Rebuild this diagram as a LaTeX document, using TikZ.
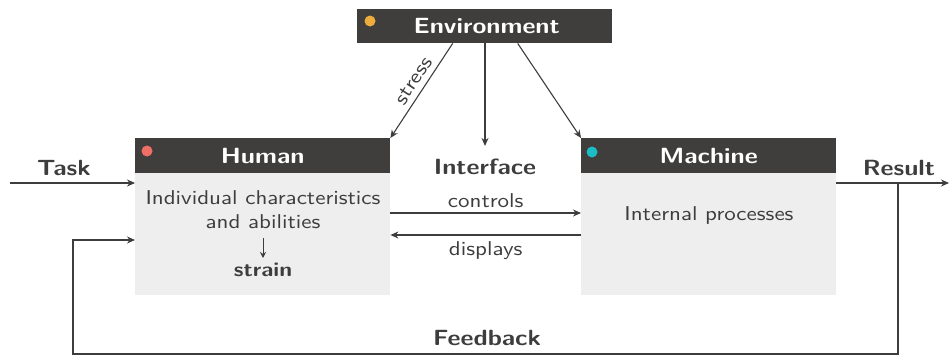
\documentclass[tikz,border=0pt]{standalone}
\usepackage{fontspec}
% Latin Modern Sans (10pt design), set slightly wide
\setmainfont{lmsans10-regular.otf}[BoldFont=lmsans10-bold.otf,FakeStretch=1.15]
\usetikzlibrary{arrows.meta,calc}
\definecolor{dk}{HTML}{3F3E3C}
\definecolor{txt}{HTML}{3D3D3D}
\definecolor{panebg}{HTML}{EEEEEE}
\definecolor{dotO}{HTML}{EFAC3E}
\definecolor{dotR}{HTML}{EF6F66}
\definecolor{dotT}{HTML}{1BBCC4}
\tikzset{
  head/.style={fill=dk,text=white,font=\bfseries\fontsize{22}{26}\selectfont,
    minimum width=255pt,minimum height=35pt,inner sep=0pt,anchor=north west},
  panebox/.style={fill=panebg,minimum width=255pt,minimum height=122pt,
    inner sep=0pt,anchor=north west},
  conn/.style={draw=txt,line width=1.1pt,-{Stealth[length=8pt,width=7pt]}},
  lbl/.style={text=txt,font=\bfseries\fontsize{22}{26}\selectfont,inner sep=0pt},
  bodytxt/.style={text=txt,font=\fontsize{20}{24}\selectfont,align=center,inner sep=0pt},
  small/.style={text=txt,font=\fontsize{20}{23}\selectfont,inner sep=0pt},
}
\begin{document}
\begin{tikzpicture}[x=1pt,y=-1pt]
\useasboundingbox (0,0) rectangle (952,356);

% environment header
\node[head,minimum height=34pt] (env) at (357,9) {\hspace*{4pt}Environment};
\fill[dotO] (370,21) circle (5.5pt);

% human box
\node[head] (humanH) at (135,138) {Human};
\node[panebox] (human) at (135,173) {};
\fill[dotR] (147,151) circle (5.5pt);
\node[bodytxt] (traits) at (263,210) {Individual characteristics\\and abilities};
\node[bodytxt,font=\bfseries\fontsize{20}{24}\selectfont] (strain) at (263,270) {strain};
\draw[draw=txt,line width=1pt,-{Stealth[length=6pt,width=6pt]}] (263,238) -- (263,258);

% machine box
\node[head] (machineH) at (581,138) {Machine};
\node[panebox] (machine) at (581,173) {};
\fill[dotT] (592,152) circle (5.5pt);
\node[bodytxt] (proc) at (709,215) {Internal processes};

% interface
\node[lbl] (iface) at (485,167) {Interface};
\draw[conn] ($(env.south)+(-32,0)$) -- (humanH.north east);
\draw[conn] (env.south -| iface.north) -- ($(iface.north)+(0,-13)$);
\draw[conn] ($(env.south)+(33,0)$) -- (machineH.north west);

\draw[conn] ($(human.north east)+(0,40)$) -- ($(machine.north west)+(0,40)$)
  node[small,midway,above=5pt] (ctl) {controls};
\draw[conn] ($(machine.north west)+(0,62)$) -- ($(human.north east)+(0,62)$)
  node[small,midway,below=6pt] (dsp) {displays};

\node[small,rotate=56.6] (stress) at (414,81) {stress};

% task input
\coordinate (taskIn) at (10,183);
\draw[conn] (taskIn) -- (taskIn -| human.west);
\node[lbl] (task) at (64,168) {Task};

% result output
\coordinate (resOut) at (949,183);
\draw[conn] (resOut -| machine.east) -- (resOut);
\node[lbl] (result) at (899,168) {Result};

% feedback loop
\coordinate (fbSplit) at (898,183);
\coordinate (fbCorner) at (73,354);
\draw[conn] (fbSplit) |- (fbCorner) |- ($(human.north west)+(0,67)$);
\node[lbl] (fb) at (487,338) {Feedback};
\end{tikzpicture}
\end{document}
